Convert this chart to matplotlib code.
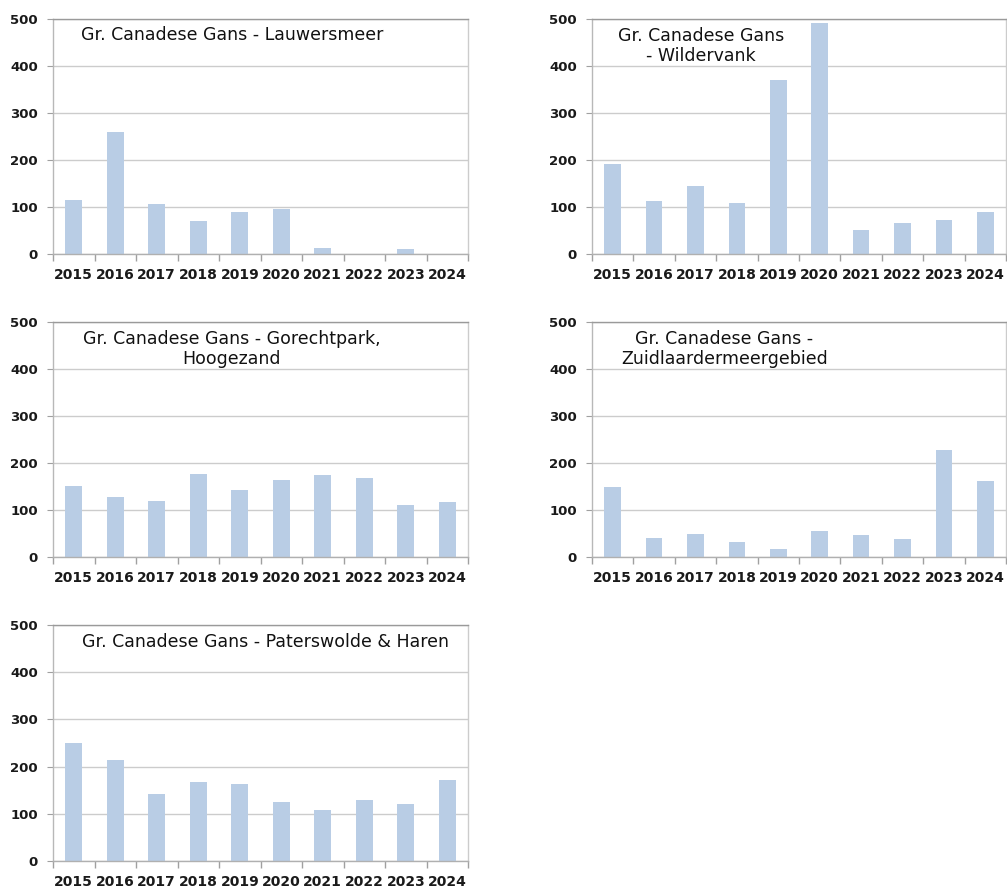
import matplotlib
matplotlib.use("Agg")
import matplotlib.pyplot as plt
import numpy as np

years = ["2015", "2016", "2017", "2018", "2019", "2020", "2021", "2022", "2023", "2024"]

lauwersmeer = [115, 260, 106, 71, 90, 95, 13, 0, 11, 0]
wildervank = [191, 113, 145, 108, 370, 492, 52, 67, 72, 90]
gorechtpark = [152, 127, 120, 177, 142, 164, 175, 168, 111, 118]
zuidlaarder = [149, 40, 49, 32, 16, 56, 47, 39, 228, 161]
paterswolde = [251, 213, 141, 167, 164, 126, 107, 129, 121, 171]

titles = [
    "Gr. Canadese Gans - Lauwersmeer",
    "Gr. Canadese Gans\n- Wildervank",
    "Gr. Canadese Gans - Gorechtpark,\nHoogezand",
    "Gr. Canadese Gans -\nZuidlaardermeergebied",
    "Gr. Canadese Gans - Paterswolde & Haren",
]
series = [lauwersmeer, wildervank, gorechtpark, zuidlaarder, paterswolde]

W, H = 1007, 888
fig = plt.figure(figsize=(W / 100, H / 100), dpi=100)

# (left, top, right, bottom) in pixels
boxes = [
    (53, 19, 468, 254),
    (592, 19, 1006, 254),
    (53, 322, 468, 557),
    (592, 322, 1006, 557),
    (53, 625, 468, 861),
]
title_pos = [(0.432, 0.93), (0.264, 0.885), (0.430, 0.885), (0.320, 0.885), (0.513, 0.93)]

bar_color = "#b9cde5"
for vals, title, box, tp in zip(series, titles, boxes, title_pos):
    l, t, r, b = box
    ax = fig.add_axes([l / W, 1 - b / H, (r - l) / W, (b - t) / H])
    x = np.arange(len(years))
    ax.bar(x, vals, width=0.4, color=bar_color, zorder=2)
    ax.set_xlim(-0.5, len(years) - 0.5)
    ax.set_ylim(0, 500)
    ax.set_yticks([0, 100, 200, 300, 400, 500])
    ax.yaxis.grid(True, color="#cccccc", linewidth=1.0, zorder=0)
    ax.set_axisbelow(True)
    ax.set_xticks(x)
    ax.set_xticklabels(years, fontsize=10, fontweight="bold", color="#1a1a1a")
    ax.tick_params(axis="x", length=0, pad=10)
    ax.set_xticks(np.arange(-0.5, len(years) + 0.5, 1), minor=True)
    ax.tick_params(axis="x", which="minor", length=5, color="#a0a0a0", width=1)
    ax.tick_params(axis="y", length=4, color="#a0a0a0", labelsize=9.5, pad=7, labelcolor="#1a1a1a")
    for lab in ax.get_yticklabels():
        lab.set_fontweight("bold")
    ax.spines["left"].set_color("#b8b8b8")
    ax.spines["bottom"].set_color("#b0b0b0")
    ax.spines["top"].set_color("#9a9a9a")
    ax.spines["right"].set_color("#cccccc")
    for s in ax.spines.values():
        s.set_linewidth(1.0)
    ax.text(tp[0], tp[1], title, transform=ax.transAxes, ha="center", va="center",
            fontsize=12.5, color="#111111", linespacing=1.2)

fig.savefig("out.png", dpi=100)
